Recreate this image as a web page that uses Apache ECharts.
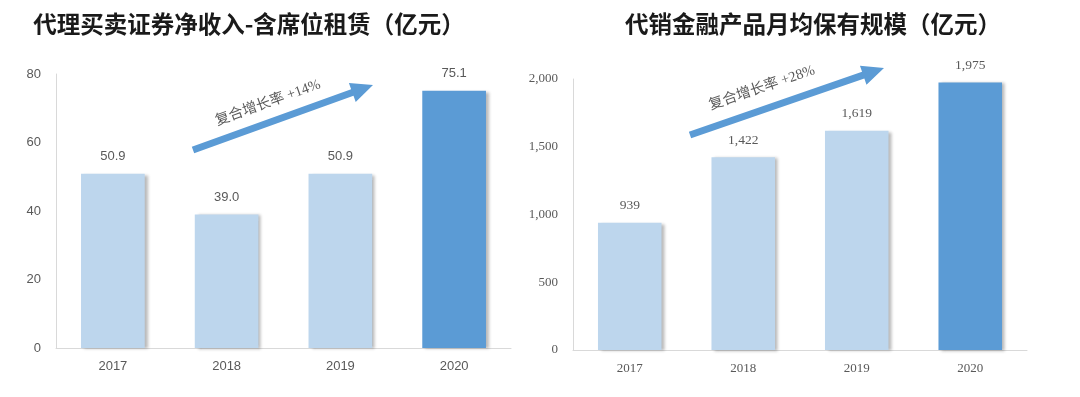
<!DOCTYPE html>
<html><head><meta charset="utf-8">
<script src="https://cdn.jsdelivr.net/npm/echarts@6/dist/echarts.min.js"></script>
<style>html,body{margin:0;padding:0;background:#fff}#c{width:1080px;height:397px}</style>
</head><body><div id="c"></div>
<script>
const years = ['2017', '2018', '2019', '2020'];
const brokerageIncome = [50.9, 39.0, 50.9, 75.1];
const productScale = [939, 1422, 1619, 1975];
const leftTicks = [0, 20, 40, 60, 80];
const rightTicks = [0, 500, 1000, 1500, 2000];
const leftTitle = '代理买卖证券净收入-含席位租赁（亿元）';
const rightTitle = '代销金融产品月均保有规模（亿元）';
const leftNote = '复合增长率 +14%';
const rightNote = '复合增长率 +28%';

const LIGHT = '#bdd6ed', DARK = '#5b9bd5', TXT = '#595959';
const chart = echarts.init(document.getElementById('c'));

function barData(vals) {
  return vals.map((v, i) => ({
    value: v,
    itemStyle: { color: i === vals.length - 1 ? DARK : LIGHT }
  }));
}
function fmtThousands(v) { return Number(v).toLocaleString('en-US'); }

function arrowPoly(x1, y1, x2, y2, shaft, headLen, headW) {
  const dx = x2 - x1, dy = y2 - y1, L = Math.hypot(dx, dy);
  const ux = dx / L, uy = dy / L, nx = -uy, ny = ux;
  const bx = x2 - ux * headLen, by = y2 - uy * headLen;
  const s = shaft / 2, h = headW / 2;
  return [
    [x1 + nx * s, y1 + ny * s], [bx + nx * s, by + ny * s], [bx + nx * h, by + ny * h],
    [x2, y2],
    [bx - nx * h, by - ny * h], [bx - nx * s, by - ny * s], [x1 - nx * s, y1 - ny * s]
  ];
}
function note(x1, y1, x2, y2, text, tx, ty) {
  const ang = Math.atan2(y1 - y2, x2 - x1);
  return [
    { type: 'polygon', shape: { points: arrowPoly(x1, y1, x2, y2, 7, 22, 20) }, style: { fill: DARK } },
    { type: 'text', x: tx, y: ty, rotation: ang,
      style: { text: text, fill: TXT, fontSize: 14.5, fontFamily: 'Liberation Serif, Noto Sans CJK SC', textAlign: 'center', textVerticalAlign: 'middle' } }
  ];
}

const axisLabelBase = { color: TXT, fontSize: 13 };
const titleStyle = { fontSize: 23.5, fontWeight: 'bold', color: '#1a1a1a', fontFamily: 'Noto Sans CJK SC' };

chart.setOption({
  animation: false,
  title: [
    { text: leftTitle, left: 244, top: 7, textAlign: 'center', textStyle: titleStyle },
    { text: rightTitle, left: 808, top: 7, textAlign: 'center', textStyle: titleStyle }
  ],
  grid: [
    { left: 56, top: 74, width: 455, height: 274 },
    { left: 573, top: 79, width: 454, height: 271 }
  ],
  xAxis: [
    { type: 'category', gridIndex: 0, data: years,
      axisLine: { lineStyle: { color: '#d9d9d9' } }, axisTick: { show: false },
      axisLabel: Object.assign({ margin: 12, fontFamily: 'Liberation Sans' }, axisLabelBase) },
    { type: 'category', gridIndex: 1, data: years,
      axisLine: { lineStyle: { color: '#d9d9d9' } }, axisTick: { show: false },
      axisLabel: Object.assign({ margin: 12, fontFamily: 'Liberation Serif' }, axisLabelBase) }
  ],
  yAxis: [
    { type: 'value', gridIndex: 0, min: leftTicks[0], max: leftTicks[leftTicks.length - 1], interval: leftTicks[1] - leftTicks[0],
      axisLine: { show: true, lineStyle: { color: '#d9d9d9' } }, axisTick: { show: false }, splitLine: { show: false },
      axisLabel: Object.assign({ margin: 15, fontFamily: 'Liberation Sans' }, axisLabelBase) },
    { type: 'value', gridIndex: 1, min: rightTicks[0], max: rightTicks[rightTicks.length - 1], interval: rightTicks[1] - rightTicks[0],
      axisLine: { show: true, lineStyle: { color: '#d9d9d9' } }, axisTick: { show: false }, splitLine: { show: false },
      axisLabel: Object.assign({ margin: 15, fontFamily: 'Liberation Serif', formatter: fmtThousands }, axisLabelBase) }
  ],
  series: [
    { type: 'bar', xAxisIndex: 0, yAxisIndex: 0, data: barData(brokerageIncome), barWidth: '56%',
      itemStyle: { shadowColor: 'rgba(0,0,0,0.28)', shadowBlur: 3, shadowOffsetX: 3, shadowOffsetY: 1 },
      label: { show: true, position: 'top', distance: 11, color: TXT, fontSize: 13, fontFamily: 'Liberation Sans',
        formatter: p => Number(p.value).toFixed(1) } },
    { type: 'bar', xAxisIndex: 1, yAxisIndex: 1, data: barData(productScale), barWidth: '56%',
      itemStyle: { shadowColor: 'rgba(0,0,0,0.28)', shadowBlur: 3, shadowOffsetX: 3, shadowOffsetY: 1 },
      label: { show: true, position: 'top', distance: 10, color: TXT, fontSize: 13.5, fontFamily: 'Liberation Serif',
        formatter: p => fmtThousands(p.value) } }
  ],
  graphic: [].concat(
    note(193, 150, 373, 85, leftNote, 268, 103),
    note(690, 135, 884, 68, rightNote, 762, 88)
  )
});
</script></body></html>
